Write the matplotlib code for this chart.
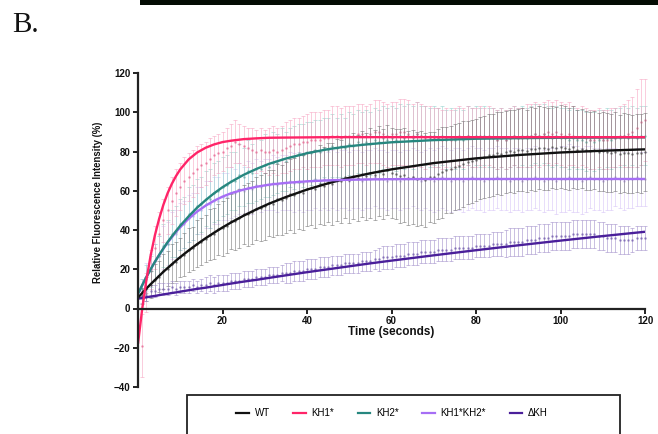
import numpy as np
import matplotlib
matplotlib.use('Agg')
import matplotlib.pyplot as plt
from matplotlib.patches import Rectangle
from matplotlib.lines import Line2D

plt.rcParams['font.family'] = ['Liberation Sans', 'DejaVu Sans']

# ---------------- data ----------------
series_names = ['WT', 'KH1*', 'KH2*', 'KH1*KH2*', '\u0394KH']

# fitted curves
fit_t = [0, 1, 2, 3, 4, 5, 6, 7, 8, 9, 10, 12, 14, 16, 18, 20, 22, 25, 28, 31,
         35, 40, 45, 50, 55, 60, 70, 80, 90, 100, 110, 120]
wt_fit = [5.5, 7.9, 10.2, 12.4, 14.5, 16.6, 18.7, 20.6, 22.5, 24.4, 26.2, 29.6, 32.8, 35.8,
          38.6, 41.3, 43.8, 47.3, 50.5, 53.4, 56.8, 60.6, 63.8, 66.6, 68.9, 70.9, 74.1,
          76.5, 78.2, 79.5, 80.4, 81.1]
kh1_fit = [-18.0, -0.1, 14.7, 27.1, 37.3, 45.7, 52.8, 58.7, 63.5, 67.5, 70.9, 76.0, 79.5,
           81.9, 83.6, 84.8, 85.5, 86.3, 86.7, 87.0, 87.1, 87.2, 87.3, 87.3, 87.3, 87.3,
           87.3, 87.3, 87.3, 87.3, 87.3, 87.3]
kh2_fit = [7.5, 11.9, 16.1, 20.0, 23.8, 27.3, 30.6, 33.8, 36.7, 39.5, 42.2, 47.0, 51.4, 55.2,
           58.7, 61.8, 64.5, 68.1, 71.1, 73.7, 76.4, 79.1, 81.2, 82.7, 83.8, 84.7, 85.8,
           86.5, 86.8, 87.0, 87.1, 87.2]
kh12_fit = [7.5, 11.9, 16.1, 20.0, 23.8, 27.2, 30.5, 33.5, 36.3, 39.0, 41.4, 45.8, 49.4,
            52.4, 54.9, 57.0, 58.7, 60.6, 62.0, 63.1, 64.0, 64.8, 65.3, 65.6, 65.8, 65.9,
            66.0, 66.0, 66.0, 66.0, 66.0, 66.0]
dkh_fit = [5.0, 5.4, 5.7, 6.1, 6.4, 6.8, 7.2, 7.5, 7.9, 8.2, 8.6, 9.3, 10.0, 10.6, 11.3,
           12.0, 12.7, 13.7, 14.6, 15.6, 16.9, 18.5, 20.0, 21.5, 23.0, 24.4, 27.1, 29.7,
           32.2, 34.6, 36.9, 39.1]

# measured frames (mean +/- error), one per second
frame_t = list(range(1, 121))
wt_mean = [6.5, 9.8, 12.1, 14.6, 16.2, 18.9, 20.3, 22.8, 23.9, 26.0,
           27.5, 29.8, 30.6, 33.1, 34.0, 35.5, 37.6, 38.2, 40.4, 40.9,
           42.1, 44.5, 44.8, 46.0, 47.9, 48.1, 49.0, 50.9, 51.2, 52.0,
           53.8, 53.5, 55.6, 55.2, 56.4, 58.1, 57.7, 59.6, 59.0, 60.8,
           61.5, 61.0, 63.3, 62.4, 64.1, 63.5, 65.6, 64.8, 66.9, 65.7,
           67.4, 66.5, 68.6, 67.3, 69.2, 68.0, 70.1, 68.6, 70.4, 69.1,
           68.5, 67.4, 68.0, 66.3, 67.2, 65.8, 66.6, 65.5, 67.0, 66.8,
           68.7, 69.3, 70.5, 70.9, 72.2, 72.7, 73.6, 74.4, 75.0, 75.8,
           76.7, 77.1, 78.0, 78.3, 79.1, 78.9, 79.7, 80.3, 80.0, 80.8,
           81.0, 80.4, 81.5, 81.1, 82.0, 81.6, 81.2, 82.3, 81.8, 82.5,
           82.0, 81.4, 82.2, 81.0, 81.5, 80.6, 80.2, 80.7, 79.8, 80.1,
           79.6, 79.2, 79.9, 78.8, 79.4, 79.0, 78.6, 79.3, 79.1, 79.8]
wt_err = [4, 6, 7, 8, 8, 9, 9, 10, 10, 10,
          11, 11, 11, 12, 12, 12, 13, 13, 13, 14,
          14, 14, 15, 15, 15, 16, 16, 16, 17, 17,
          17, 17, 18, 18, 18, 18, 19, 19, 19, 19,
          19, 20, 20, 20, 20, 21, 21, 21, 21, 22,
          22, 22, 22, 22, 23, 23, 23, 23, 23, 23,
          23, 24, 24, 24, 24, 24, 24, 24, 23, 23,
          23, 23, 22, 22, 22, 22, 22, 21, 21, 21,
          21, 21, 21, 21, 21, 21, 21, 21, 21, 21,
          21, 21, 21, 21, 21, 21, 21, 21, 21, 21,
          21, 21, 21, 20, 20, 20, 20, 20, 20, 20,
          20, 20, 20, 20, 20, 20, 20, 20, 20, 20]
kh1_mean = [-19, 8, 20, 31, 38, 45, 50, 55, 59, 62,
            65, 67, 69, 71, 73, 74, 76, 78, 79, 80,
            82, 83, 85, 84, 83, 82, 81, 80, 81, 80,
            80, 81, 80, 81, 82, 83, 84, 84, 85, 85,
            86, 86, 86, 87, 87, 88, 88, 87, 88, 88,
            88, 89, 89, 88, 89, 90, 90, 89, 88, 89,
            89, 90, 90, 89, 88, 89, 88, 87, 88, 87,
            87, 86, 87, 86, 87, 88, 87, 88, 87, 87,
            88, 87, 88, 87, 86, 87, 86, 87, 88, 87,
            87, 88, 88, 89, 88, 89, 90, 89, 90, 89,
            88, 89, 88, 87, 88, 87, 86, 86, 87, 86,
            86, 87, 87, 88, 88, 89, 90, 92, 95, 96]
kh1_err = [16, 10, 10, 11, 11, 11, 12, 12, 12, 12,
           12, 12, 12, 12, 11, 11, 11, 10, 10, 10,
           10, 11, 11, 10, 10, 10, 11, 11, 11, 11,
           12, 12, 12, 12, 13, 13, 13, 13, 13, 14,
           14, 14, 14, 14, 14, 15, 15, 15, 15, 15,
           15, 15, 15, 15, 15, 16, 16, 16, 16, 16,
           16, 17, 17, 17, 16, 16, 16, 16, 15, 15,
           15, 15, 15, 15, 15, 15, 15, 15, 15, 15,
           15, 15, 15, 15, 15, 15, 15, 15, 15, 15,
           15, 16, 16, 16, 16, 16, 16, 16, 16, 16,
           16, 16, 15, 15, 15, 15, 15, 15, 15, 15,
           15, 15, 15, 15, 16, 17, 18, 20, 22, 21]
kh2_mean = [10, 15, 19, 24, 27, 32, 33, 38, 39, 43,
            44, 48, 49, 52, 53, 56, 56, 59, 60, 62,
            63, 65, 65, 68, 67, 70, 69, 71, 71, 73,
            72, 74, 74, 76, 75, 77, 77, 79, 78, 80,
            79, 81, 80, 82, 81, 83, 82, 83, 82, 84,
            83, 85, 84, 85, 84, 86, 85, 87, 86, 87,
            86, 88, 87, 88, 87, 89, 88, 88, 87, 88,
            87, 88, 86, 87, 86, 87, 86, 88, 87, 88,
            87, 88, 87, 87, 86, 87, 86, 87, 88, 87,
            88, 87, 88, 89, 88, 89, 88, 87, 88, 87,
            87, 86, 87, 86, 86, 85, 86, 85, 86, 86,
            87, 86, 87, 87, 88, 87, 88, 87, 88, 88]
kh2_err = [5, 7, 8, 9, 10, 11, 12, 12, 13, 13,
           13, 14, 14, 14, 14, 14, 15, 15, 15, 15,
           15, 15, 15, 16, 15, 16, 15, 16, 15, 16,
           15, 16, 15, 16, 15, 15, 16, 15, 16, 15,
           16, 15, 16, 15, 16, 16, 15, 16, 15, 16,
           16, 16, 16, 16, 16, 16, 16, 16, 16, 16,
           16, 16, 16, 16, 16, 16, 15, 15, 15, 15,
           15, 15, 15, 15, 15, 15, 15, 15, 15, 15,
           15, 15, 15, 15, 15, 15, 15, 15, 15, 15,
           15, 15, 15, 15, 15, 15, 15, 15, 15, 15,
           15, 15, 15, 15, 15, 15, 15, 15, 15, 15,
           15, 15, 15, 15, 15, 15, 15, 15, 15, 15]
kh12_mean = [10, 16, 20, 24, 27, 31, 33, 37, 38, 42,
             43, 46, 47, 50, 50, 53, 53, 55, 55, 57,
             57, 59, 59, 61, 60, 62, 61, 63, 62, 63,
             63, 64, 63, 64, 64, 65, 64, 65, 64, 65,
             65, 66, 65, 66, 65, 66, 65, 66, 66, 65,
             66, 66, 65, 66, 66, 67, 66, 66, 65, 66,
             66, 65, 66, 66, 67, 66, 65, 66, 66, 65,
             66, 67, 66, 65, 66, 66, 65, 66, 67, 66,
             66, 65, 66, 66, 67, 66, 66, 65, 66, 66,
             65, 66, 66, 67, 66, 65, 66, 66, 65, 66,
             66, 67, 66, 66, 65, 66, 67, 66, 66, 65,
             66, 66, 67, 66, 65, 66, 66, 67, 66, 66]
kh12_err = [5, 7, 8, 9, 10, 11, 11, 12, 12, 12,
            12, 12, 12, 12, 12, 12, 12, 12, 12, 12,
            12, 13, 12, 13, 12, 13, 13, 13, 13, 13,
            13, 14, 14, 14, 14, 15, 15, 15, 15, 15,
            15, 15, 15, 15, 15, 15, 15, 15, 15, 15,
            15, 15, 15, 15, 15, 15, 15, 15, 15, 15,
            15, 15, 15, 15, 15, 15, 15, 15, 16, 16,
            16, 16, 16, 16, 16, 16, 16, 16, 16, 16,
            16, 16, 16, 16, 16, 16, 16, 16, 16, 16,
            16, 16, 16, 16, 16, 16, 16, 16, 17, 17,
            17, 17, 17, 17, 17, 17, 16, 16, 16, 16,
            16, 16, 15, 15, 15, 15, 15, 15, 14, 14]
dkh_mean = [6, 7, 9, 9, 10, 10, 10, 11, 10, 11,
            11, 11, 12, 11, 12, 12, 13, 12, 13, 13,
            13, 14, 14, 14, 15, 15, 15, 16, 16, 16,
            17, 17, 17, 18, 18, 18, 19, 19, 19, 20,
            20, 20, 21, 21, 21, 22, 22, 22, 23, 23,
            23, 23, 24, 24, 24, 25, 25, 26, 26, 26,
            27, 27, 27, 28, 28, 28, 29, 29, 29, 29,
            30, 30, 30, 30, 31, 31, 31, 31, 31, 32,
            32, 32, 32, 33, 33, 33, 33, 34, 34, 34,
            34, 35, 35, 35, 36, 36, 36, 37, 37, 37,
            37, 37, 38, 38, 38, 38, 38, 38, 37, 37,
            36, 36, 36, 35, 35, 35, 35, 36, 36, 36]
dkh_err = [3, 3, 3, 3, 3, 3, 3, 3, 3, 3,
           3, 3, 3, 3, 3, 4, 4, 4, 4, 4,
           4, 4, 4, 4, 4, 4, 4, 4, 4, 4,
           4, 4, 4, 4, 5, 5, 5, 5, 5, 5,
           5, 5, 5, 5, 5, 5, 5, 5, 5, 5,
           5, 5, 5, 5, 5, 5, 6, 6, 6, 6,
           6, 6, 6, 6, 6, 6, 6, 6, 6, 6,
           6, 6, 6, 6, 6, 6, 6, 6, 6, 6,
           6, 6, 6, 6, 6, 6, 7, 7, 7, 7,
           7, 7, 7, 7, 7, 7, 7, 7, 7, 7,
           7, 7, 7, 7, 7, 7, 7, 7, 7, 7,
           7, 7, 7, 7, 7, 7, 6, 6, 6, 6]

x_ticks = [20, 40, 60, 80, 100, 120]
y_ticks = [-40, -20, 0, 20, 40, 60, 80, 100, 120]

# ---------------- style ----------------
line_colors = ['#111111', '#ff2468', '#26877f', '#a66ef5', '#4a1f9a']
bar_colors = ['#757575', '#f7a3c1', '#93d2cc', '#d6c2f7', '#9e8bc9']
dot_colors = ['#555555', '#e8739a', '#6fb2ac', '#bfa5ec', '#7d68b3']

fig = plt.figure(figsize=(6.58, 4.34), dpi=100)
ax = fig.add_axes([138 / 658, 1 - 387 / 434, 507 / 658, 314 / 434])

fits = [wt_fit, kh1_fit, kh2_fit, kh12_fit, dkh_fit]
means = [wt_mean, kh1_mean, kh2_mean, kh12_mean, dkh_mean]
errs = [wt_err, kh1_err, kh2_err, kh12_err, dkh_err]

bar_order = [3, 2, 1, 0, 4]
for z, i in enumerate(bar_order):
    ax.errorbar(frame_t, means[i], yerr=errs[i], fmt='o', ms=0.8,
                color=dot_colors[i], ecolor=bar_colors[i], elinewidth=0.55,
                capsize=1.1, capthick=0.55, alpha=0.7, zorder=1 + 0.1 * z,
                clip_on=False)

line_order = [4, 0, 3, 2, 1]
for z, i in enumerate(line_order):
    ax.plot(fit_t, fits[i], color=line_colors[i], lw=1.7, zorder=3 + 0.1 * z,
            solid_capstyle='butt')

ax.set_xlim(0, 120)
ax.set_ylim(-40, 120)
ax.set_xticks(x_ticks)
ax.set_yticks(y_ticks)
ax.spines['top'].set_visible(False)
ax.spines['right'].set_visible(False)
ax.spines['bottom'].set_position(('data', 0))
for s in ['left', 'bottom']:
    ax.spines[s].set_linewidth(1.6)
    ax.spines[s].set_color('#222222')
    ax.spines[s].set_zorder(5)
ax.tick_params(direction='out', length=3.5, width=1.4, color='#222222',
               labelsize=7, pad=2)
for lbl in ax.get_xticklabels() + ax.get_yticklabels():
    lbl.set_fontweight('bold')
    lbl.set_color('#111111')

ax.set_xlabel('Time (seconds)', fontsize=8.5, fontweight='bold', color='#111111')
ax.xaxis.set_label_coords(0.5, 0.195)
ax.set_ylabel('Relative Fluorescence Intensity (%)', fontsize=6.9,
              fontweight='bold', color='#111111')
ax.yaxis.set_label_coords(-0.07, 0.589)

# legend
handles = [Line2D([], [], color=c, lw=1.6) for c in line_colors]
fig.legend(handles, series_names, loc='center',
           bbox_to_anchor=(392 / 658, 1 - 413 / 434), ncol=5, frameon=False,
           fontsize=7, handlelength=1.3, handletextpad=0.6, columnspacing=2.4)
fig.add_artist(Rectangle((187 / 658, 1 - 440 / 434), (620 - 187) / 658, 45 / 434,
                         transform=fig.transFigure, fill=False,
                         edgecolor='#222222', lw=1.3))

# panel label and the strip at the top
fig.text(12 / 658, 1 - 25 / 434, 'B.', family=['Liberation Serif', 'DejaVu Serif'],
         fontsize=21, va='center', ha='left', color='#111111')
fig.add_artist(Rectangle((140 / 658, 1 - 5 / 434), 518 / 658, 5 / 434,
                         transform=fig.transFigure, color='#040c04', lw=0))

fig.savefig('out.png', dpi=100)
